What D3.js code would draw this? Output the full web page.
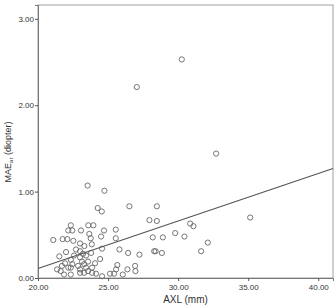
<!DOCTYPE html>
<html lang="en">
<head>
    <meta charset="utf-8" />
    <title>MAE vs AXL</title>
    <script src="https://d3js.org/d3.v7.min.js"></script>
    <style>
        body { margin: 0; background: #fff; }
        text { font-family: "Liberation Sans", Arial, sans-serif; fill: #333; }
    </style>
</head>
<body>
    <script>
        // axial length (mm) and MAE_ar (diopter)
        const axl = [30.26, 27.05, 32.71, 23.54, 24.74, 24.26, 24.55, 26.52, 28.48, 27.95,
            28.48, 30.86, 31.09, 35.14, 22.34, 23.59, 23.95, 22.16, 22.45, 23.07,
            24.71, 25.55, 23.66, 21.09, 21.76, 22.09, 22.52, 23.0, 23.76, 24.5,
            25.55, 28.19, 28.91, 29.79, 30.45, 32.12, 23.31, 23.84, 25.81, 24.57,
            26.43, 27.24, 28.29, 28.39, 28.84, 31.64, 21.52, 22.0, 23.0, 23.21,
            23.43, 23.79, 24.43, 21.93, 22.16, 25.66, 25.57, 25.43, 26.93, 26.95,
            26.38, 21.62, 21.86, 22.34, 23.0, 23.29, 23.57, 23.86, 24.14, 24.57,
            25.14, 26.05, 22.34, 22.45, 22.34, 23.0, 23.14, 22.86, 23.29, 23.0,
            23.43, 23.57, 22.71, 24.07, 23.86, 22.57, 21.71, 21.36];
        const mae = [2.53, 2.21, 1.44, 1.07, 1.01, 0.81, 0.77, 0.83, 0.83, 0.67,
            0.66, 0.63, 0.60, 0.70, 0.61, 0.61, 0.61, 0.55, 0.55, 0.55,
            0.55, 0.56, 0.51, 0.44, 0.45, 0.45, 0.43, 0.40, 0.46, 0.48,
            0.46, 0.47, 0.47, 0.52, 0.48, 0.41, 0.37, 0.39, 0.33, 0.34,
            0.29, 0.27, 0.31, 0.31, 0.29, 0.31, 0.25, 0.30, 0.31, 0.28,
            0.26, 0.29, 0.22, 0.17, 0.12, 0.15, 0.10, 0.05, 0.14, 0.08,
            0.10, 0.08, 0.04, 0.04, 0.06, 0.06, 0.08, 0.06, 0.05, 0.02,
            0.05, 0.04, 0.21, 0.16, 0.12, 0.24, 0.19, 0.14, 0.16, 0.10,
            0.12, 0.19, 0.33, 0.17, 0.12, 0.26, 0.14, 0.10];

        const xTicks = [20, 25, 30, 35, 40];
        const yTicks = [0, 1, 2, 3];
        // fit line: intercept, slope
        const fit = [-0.99, 0.055];

        const W = 335, H = 306;
        const margin = { top: 5, right: 2, bottom: 28, left: 38 };
        const width = W - margin.left - margin.right;
        const height = H - margin.top - margin.bottom;

        const svg = d3.select("body").append("svg")
            .attr("width", W)
            .attr("height", H);

        const g = svg.append("g")
            .attr("transform", `translate(${margin.left},${margin.top})`);

        const x = d3.scaleLinear().domain([20, 41.05]).range([0, width]);
        const y = d3.scaleLinear().domain([0, 3.16]).range([height, 0]);

        // frame
        g.append("rect")
            .attr("x", 0).attr("y", 0)
            .attr("width", width).attr("height", height)
            .attr("fill", "none")
            .attr("stroke", "#a0a0a0")
            .attr("stroke-width", 1);

        const fmt = d3.format(".2f");

        const xAxis = g.append("g")
            .attr("transform", `translate(0,${height})`)
            .call(d3.axisBottom(x).tickValues(xTicks).tickFormat(fmt).tickSize(3).tickPadding(3));
        const yAxis = g.append("g")
            .call(d3.axisLeft(y).tickValues(yTicks).tickFormat(fmt).tickSize(3).tickPadding(1));

        [xAxis, yAxis].forEach(a => {
            a.select(".domain").attr("stroke", "#777");
            a.selectAll(".tick line").attr("stroke", "#555");
            a.selectAll("text")
                .style("font-family", "'Liberation Sans', Arial, sans-serif")
                .style("font-size", "8px")
                .attr("fill", "#333");
        });

        // points
        const pts = axl.map((v, i) => ({ x: v, y: mae[i] }));
        g.append("g").selectAll("circle")
            .data(pts)
            .enter().append("circle")
            .attr("cx", d => x(d.x))
            .attr("cy", d => y(d.y))
            .attr("r", 2.6)
            .attr("fill", "none")
            .attr("stroke", "#666")
            .attr("stroke-width", 0.9);

        // fit line
        const line = d3.line()
            .x(d => x(d))
            .y(d => y(fit[0] + fit[1] * d));
        g.append("path")
            .datum(x.domain())
            .attr("d", line)
            .attr("fill", "none")
            .attr("stroke", "#555")
            .attr("stroke-width", 1.2);

        // axis titles
        const yTitle = svg.append("text")
            .attr("transform", `translate(11,152) rotate(-90)`)
            .attr("text-anchor", "middle")
            .style("font-size", "9px");
        yTitle.append("tspan").text("MAE");
        yTitle.append("tspan").attr("dy", 2).style("font-size", "6px").text("ar");
        yTitle.append("tspan").attr("dy", -2).text(" (diopter)");

        svg.append("text")
            .attr("x", margin.left + width / 2)
            .attr("y", 303)
            .attr("text-anchor", "middle")
            .style("font-size", "10px")
            .text("AXL (mm)");
    </script>
</body>
</html>
